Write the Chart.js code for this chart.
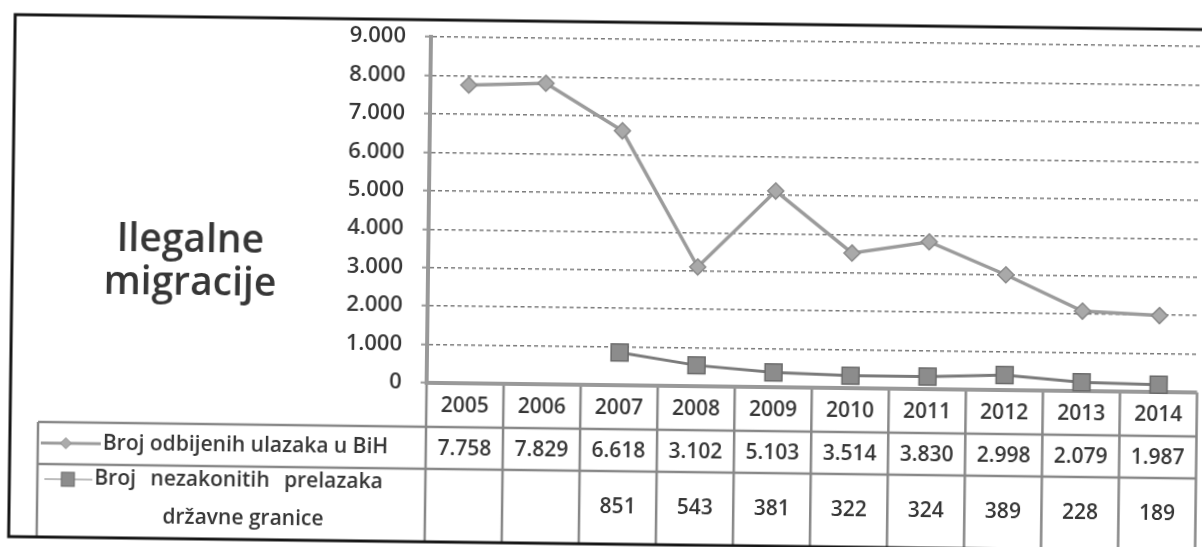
<!DOCTYPE html>
<html>
<head>
<meta charset="utf-8">
<title>Ilegalne migracije</title>
<script src="https://cdn.jsdelivr.net/npm/chart.js@4.4.1/dist/chart.umd.min.js"></script>
<style>
  html, body { margin: 0; padding: 0; background: #fff; overflow: hidden; }
  /* the source is a slightly tilted scan, so the whole sheet is turned a little */
  #wrap {
    position: absolute; left: 0; top: 0;
    width: 1212px; height: 547px;
    transform-origin: 601px 273.5px;
    transform: rotate(0.72deg);
  }
</style>
</head>
<body>
<div id="wrap"><canvas id="migChart" width="1212" height="547"></canvas></div>
<script>
const years = ['2005', '2006', '2007', '2008', '2009', '2010', '2011', '2012', '2013', '2014'];
const refusedEntries = [7758, 7829, 6618, 3102, 5103, 3514, 3830, 2998, 2079, 1987];
const illegalCrossings = [null, null, 851, 543, 381, 322, 324, 389, 228, 189];
const yTicks = [0, 1000, 2000, 3000, 4000, 5000, 6000, 7000, 8000, 9000];
const seriesLabels = ['Broj odbijenih ulazaka u BiH', 'Broj nezakonitih prelazaka državne granice'];
const legendLines = [['Broj odbijenih ulazaka u BiH'], ['Broj nezakonitih prelazaka', 'državne granice']];
const titleLines = ['Ilegalne', 'migracije'];

const FONT = '"Open Sans", "DejaVu Sans", sans-serif';
const TEXT = '#363636';
const LINE1 = '#9b9b9b';
const LINE2 = '#7a7a7a';

// thousands with a dot, like the original
function fmt(v) {
    if (v === null || v === undefined) return '';
    return String(v).replace(/\B(?=(\d{3})+(?!\d))/g, '.');
}

function drawDiamond(ctx, cx, cy, r, fill, stroke) {
    ctx.beginPath();
    ctx.moveTo(cx, cy - r);
    ctx.lineTo(cx + r, cy);
    ctx.lineTo(cx, cy + r);
    ctx.lineTo(cx - r, cy);
    ctx.closePath();
    ctx.fillStyle = fill;
    ctx.fill();
    ctx.strokeStyle = stroke;
    ctx.lineWidth = 1;
    ctx.stroke();
}

// Data table under the plot, legend keys, title and the frame
const dataTable = {
    id: 'dataTable',
    beforeDatasetsDraw(chart) {
        const ctx = chart.ctx;
        const x = chart.scales.x;
        const y = chart.scales.y;
        const n = years.length;
        const colW = x.getPixelForValue(1) - x.getPixelForValue(0);
        const left = x.getPixelForValue(0) - colW / 2;
        const right = x.getPixelForValue(n - 1) + colW / 2;
        const headTop = y.getPixelForValue(0);
        const row1Top = 429, row2Top = 471, bottom = 544;
        const legendLeft = 40;

        ctx.save();
        // table lines
        ctx.strokeStyle = '#888';
        ctx.lineWidth = 2.5;
        ctx.beginPath();
        for (let i = 0; i <= n; i++) {
            const xi = left + i * colW;
            ctx.moveTo(xi, headTop);
            ctx.lineTo(xi, bottom);
        }
        ctx.moveTo(legendLeft, row1Top); ctx.lineTo(right, row1Top);
        ctx.moveTo(legendLeft, row2Top); ctx.lineTo(right, row2Top);
        ctx.moveTo(legendLeft, row1Top); ctx.lineTo(legendLeft, bottom);
        ctx.stroke();

        // category axis line
        ctx.strokeStyle = '#999';
        ctx.lineWidth = 4;
        ctx.beginPath();
        ctx.moveTo(left - 2, headTop);
        ctx.lineTo(right, headTop);
        ctx.stroke();

        // cell texts
        ctx.fillStyle = TEXT;
        ctx.font = '600 21px ' + FONT;
        ctx.textAlign = 'center';
        ctx.textBaseline = 'middle';
        years.forEach((yr, i) => {
            const cx = x.getPixelForValue(i);
            ctx.fillText(yr, cx, (headTop + row1Top) / 2 + 1);
            ctx.fillText(fmt(refusedEntries[i]), cx, (row1Top + row2Top) / 2 + 1);
            ctx.fillText(fmt(illegalCrossings[i]), cx, (row2Top + bottom) / 2);
        });

        // legend keys
        const r1 = (row1Top + row2Top) / 2;
        ctx.strokeStyle = LINE1;
        ctx.lineWidth = 3;
        ctx.beginPath();
        ctx.moveTo(43, r1); ctx.lineTo(103, r1);
        ctx.stroke();
        drawDiamond(ctx, 68, r1, 5.5, '#ababab', '#8e8e8e');

        const r2 = 486;
        ctx.strokeStyle = LINE2;
        ctx.beginPath();
        ctx.moveTo(47, r2); ctx.lineTo(95, r2);
        ctx.stroke();
        ctx.fillStyle = '#8c8c8c';
        ctx.fillRect(64, r2 - 7, 13, 14);
        ctx.strokeStyle = '#6a6a6a';
        ctx.lineWidth = 1;
        ctx.strokeRect(64, r2 - 7, 13, 14);

        // legend texts
        ctx.fillStyle = TEXT;
        ctx.font = '600 21px ' + FONT;
        ctx.textAlign = 'left';
        ctx.fillText(legendLines[0][0], 105, r1);
        ctx.wordSpacing = '9px';
        ctx.fillText(legendLines[1][0], 97, 485);
        ctx.wordSpacing = '0px';
        ctx.textAlign = 'center';
        ctx.fillText(legendLines[1][1], 246, 523);

        // title
        ctx.font = '600 39px ' + FONT;
        ctx.textBaseline = 'alphabetic';
        ctx.fillText(titleLines[0], 190, 257);
        ctx.fillText(titleLines[1], 190, 300);

        // outer frame
        ctx.strokeStyle = '#161616';
        ctx.lineWidth = 3;
        ctx.strokeRect(12, 22, 1400, bottom - 22);
        ctx.restore();
    }
};

const ctx = document.getElementById('migChart').getContext('2d');
new Chart(ctx, {
    type: 'line',
    data: {
        labels: years,
        datasets: [{
            label: seriesLabels[0],
            data: refusedEntries,
            borderColor: LINE1,
            borderWidth: 3.5,
            pointStyle: 'rectRot',
            pointRadius: 8,
            pointBackgroundColor: '#a9a9a9',
            pointBorderColor: '#8a8a8a',
            pointBorderWidth: 1.5,
            tension: 0,
            clip: false
        }, {
            label: seriesLabels[1],
            data: illegalCrossings,
            borderColor: LINE2,
            borderWidth: 3,
            pointStyle: 'rect',
            pointRadius: 12,
            pointBackgroundColor: '#8c8c8c',
            pointBorderColor: '#6a6a6a',
            pointBorderWidth: 1.5,
            tension: 0,
            spanGaps: false,
            clip: false
        }]
    },
    options: {
        responsive: false,
        animation: false,
        devicePixelRatio: 1,
        layout: { padding: { left: 0, right: 6, top: 39, bottom: 162 } },
        plugins: {
            legend: { display: false },
            tooltip: { enabled: false }
        },
        scales: {
            x: {
                display: false,
                offset: true
            },
            y: {
                min: 0,
                max: 9000,
                afterFit: s => { s.width = 428; },
                afterBuildTicks: s => { s.ticks = yTicks.map(v => ({ value: v })); },
                ticks: {
                    color: TEXT,
                    font: { family: FONT, size: 22, weight: '600' },
                    padding: 19,
                    callback: v => fmt(v)
                },
                grid: {
                    color: '#7a7a7a',
                    lineWidth: 1.4,
                    tickLength: 6,
                    tickColor: '#999',
                    tickWidth: 2,
                    tickBorderDash: []
                },
                border: {
                    display: true,
                    color: '#999',
                    width: 4,
                    dash: [4, 3]
                }
            }
        }
    },
    plugins: [dataTable]
});
</script>
</body>
</html>
